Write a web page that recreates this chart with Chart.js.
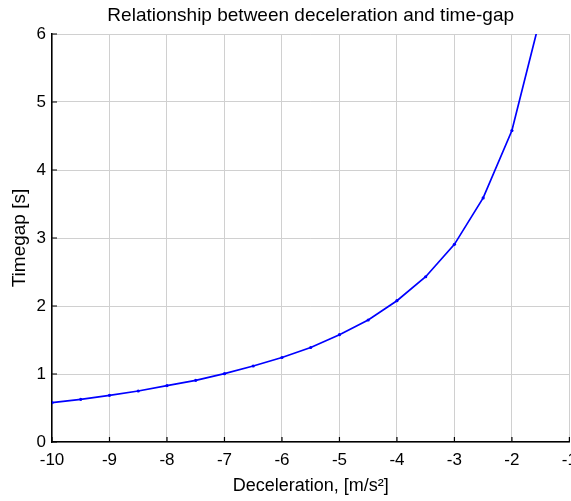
<!DOCTYPE html>
<html>
<head>
<meta charset="utf-8">
<script src="https://cdn.jsdelivr.net/npm/chart.js@4.4.1/dist/chart.umd.min.js"></script>
<style>
  html, body { margin: 0; padding: 0; background: #fff; }
  #wrap { width: 571px; height: 501px; }
</style>
</head>
<body>
<div id="wrap"><canvas id="chart"></canvas></div>
<script>
// deceleration [m/s^2] and timegap [s]
const decel = [-10, -9.5, -9, -8.5, -8, -7.5, -7, -6.5, -6, -5.5, -5, -4.5, -4, -3.5, -3, -2.5, -2, -1.5];
const timegap = [0.578, 0.628, 0.687, 0.75, 0.83, 0.907, 1.005, 1.118, 1.243, 1.39, 1.578, 1.794, 2.078, 2.43, 2.907, 3.59, 4.58, 6.26];

const xTicks = [-10, -9, -8, -7, -6, -5, -4, -3, -2, -1];
const yTicks = [0, 1, 2, 3, 4, 5, 6];

const FONT = "Liberation Sans, Arial, sans-serif";

// MATLAB style ticks pointing into the plot
const innerTicks = {
    id: "innerTicks",
    afterDatasetsDraw(chart) {
        const { ctx, chartArea, scales } = chart;
        ctx.save();
        ctx.strokeStyle = "#000";
        ctx.lineWidth = 1.2;
        ctx.beginPath();
        xTicks.forEach(v => {
            const px = scales.x.getPixelForValue(v);
            ctx.moveTo(px, chartArea.bottom);
            ctx.lineTo(px, chartArea.bottom - 5);
        });
        yTicks.forEach(v => {
            const py = scales.y.getPixelForValue(v);
            ctx.moveTo(chartArea.left, py);
            ctx.lineTo(chartArea.left + 5, py);
        });
        ctx.stroke();
        ctx.restore();
    }
};

new Chart(document.getElementById("chart"), {
    type: "line",
    data: {
        datasets: [{
            data: decel.map((d, i) => ({ x: d, y: timegap[i] })),
            borderColor: "#0000ff",
            backgroundColor: "#0000ff",
            borderWidth: 1.7,
            pointRadius: 1.6,
            pointHoverRadius: 1.6,
            pointBorderWidth: 0,
            tension: 0
        }]
    },
    options: {
        responsive: true,
        maintainAspectRatio: false,
        animation: false,
        layout: { padding: 0 },
        plugins: {
            legend: { display: false },
            tooltip: { enabled: false },
            title: { display: false }
        },
        scales: {
            x: {
                type: "linear",
                min: -10,
                max: -1,
                afterBuildTicks: s => { s.ticks = xTicks.map(v => ({ value: v })); },
                afterFit: s => { s.height = 59; s.paddingLeft = 0; s.paddingRight = 0; },
                grid: { color: "#d0d0d0", lineWidth: 1, drawTicks: false },
                border: { display: true, color: "#000", width: 1.5 },
                ticks: { color: "#000", font: { family: FONT, size: 17 }, padding: 8, maxRotation: 0 },
                title: {
                    display: true,
                    text: "Deceleration, [m/s\u00B2]",
                    color: "#000",
                    font: { family: FONT, size: 18 },
                    padding: { top: 0, bottom: 4 }
                }
            },
            xTop: {
                type: "linear",
                position: "top",
                min: -10,
                max: -1,
                afterFit: s => { s.height = 34; s.paddingLeft = 0; s.paddingRight = 0; },
                grid: { display: false, drawTicks: false },
                border: { display: false },
                ticks: { display: false },
                title: {
                    display: true,
                    text: "Relationship between deceleration and time-gap",
                    color: "#000",
                    font: { family: FONT, size: 19 },
                    padding: { top: 4, bottom: 0 }
                }
            },
            y: {
                type: "linear",
                min: 0,
                max: 6,
                afterBuildTicks: s => { s.ticks = yTicks.map(v => ({ value: v })); },
                afterFit: s => { s.width = 52; s.paddingTop = 0; s.paddingBottom = 0; },
                grid: { color: "#d0d0d0", lineWidth: 1, drawTicks: false },
                border: { display: true, color: "#000", width: 1.5 },
                ticks: { color: "#000", font: { family: FONT, size: 17 }, padding: 6 },
                title: {
                    display: true,
                    text: "Timegap [s]",
                    color: "#000",
                    font: { family: FONT, size: 19 },
                    padding: { top: 8, bottom: 0 }
                }
            }
        }
    },
    plugins: [innerTicks]
});
</script>
</body>
</html>
